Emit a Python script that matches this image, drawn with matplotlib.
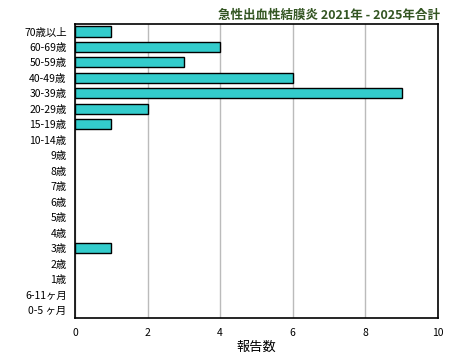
import matplotlib.pyplot as plt

plt.rcParams['font.family'] = ['Noto Sans CJK JP', 'DejaVu Sans']

# Data (top to bottom as shown)
ages = ['70歳以上', '60-69歳', '50-59歳', '40-49歳', '30-39歳', '20-29歳', '15-19歳',
        '10-14歳', '9歳', '8歳', '7歳', '6歳', '5歳', '4歳', '3歳', '2歳', '1歳',
        '6-11ヶ月', '0-5 ヶ月']
counts = [1, 4, 3, 6, 9, 2, 1, 0, 0, 0, 0, 0, 0, 0, 1, 0, 0, 0, 0]
xticks = [0, 2, 4, 6, 8, 10]

fig = plt.figure(figsize=(4.6, 3.6), dpi=100)
ax = fig.add_axes([0.163, 0.117, 0.789, 0.817])

ypos = list(range(len(ages)))[::-1]
# empty categories get no outline, so no stub shows at zero
widths = [1 if c > 0 else 0 for c in counts]
ax.barh(ypos, counts, height=0.65, color='#33CCCC', edgecolor='black',
        linewidth=widths, zorder=3)

ax.set_xlim(0, 10)
ax.set_ylim(-0.5, len(ages) - 0.5)
ax.set_yticks(ypos)
ax.set_yticklabels(ages, fontsize=7.5)
ax.set_xticks(xticks)
ax.set_xticklabels([str(t) for t in xticks], fontsize=7.5)
ax.tick_params(axis='y', length=0, pad=6)
ax.tick_params(axis='x', length=0, pad=7)
ax.xaxis.grid(True, color='#bbbbbb', linewidth=1, zorder=0)
for s in ax.spines.values():
    s.set_linewidth(1.2)

ax.set_xlabel('報告数', fontsize=9.5, labelpad=2)
fig.text(0.957, 0.957, '急性出血性結膜炎 2021年 - 2025年合計', ha='right', va='center',
         fontsize=9, fontweight='bold', color='#335522')

fig.savefig('out.png', dpi=100)
